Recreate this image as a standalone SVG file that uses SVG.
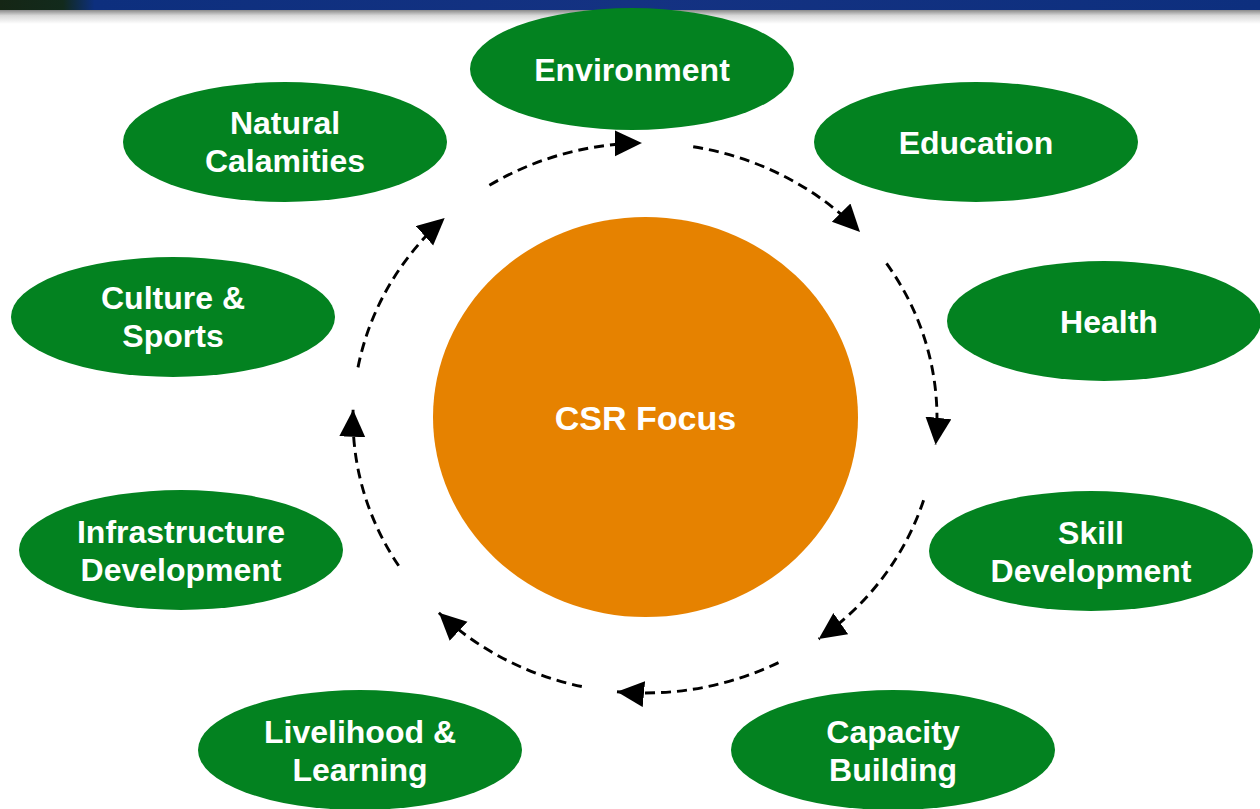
<svg xmlns="http://www.w3.org/2000/svg" width="1260" height="809" viewBox="0 0 1260 809">
<style>
.node ellipse{fill:#038220}
.lbl{font-family:"Liberation Sans",Arial,sans-serif;font-weight:bold;font-size:32px;fill:#fff;text-anchor:middle}
.arc{fill:none;stroke:#000;stroke-width:2.9;stroke-dasharray:10 6;marker-end:url(#ah)}
</style>
<defs>
<linearGradient id="hdr" x1="0" y1="0" x2="1" y2="0">
<stop offset="0" stop-color="#152615"/>
<stop offset="0.05" stop-color="#122a1c"/>
<stop offset="0.075" stop-color="#0d2f7e"/>
<stop offset="0.5" stop-color="#143282"/>
<stop offset="1" stop-color="#0d2f7e"/>
</linearGradient>
<linearGradient id="shd" x1="0" y1="0" x2="0" y2="1">
<stop offset="0" stop-color="#8a8a8a"/>
<stop offset="0.4" stop-color="#d8d8d8"/>
<stop offset="1" stop-color="#ffffff"/>
</linearGradient>
<marker id="ah" markerUnits="userSpaceOnUse" markerWidth="30" markerHeight="28" refX="27" refY="13" orient="auto">
<path d="M0,0 L27,13 L0,26 Z" fill="#000"/>
</marker>
</defs>
<rect x="0" y="0" width="1260" height="809" fill="#fff"/>
<rect x="0" y="10" width="1260" height="14" fill="url(#shd)"/>
<rect x="0" y="0" width="1260" height="10" fill="url(#hdr)"/>

<g id="connectors">
<path class="arc" d="M489.4,185.3 A292,275 0 0 1 641.9,143.0"/>
<path class="arc" d="M693.2,146.8 A292,275 0 0 1 860.0,231.9"/>
<path class="arc" d="M886.5,263.4 A292,275 0 0 1 935.6,444.8"/>
<path class="arc" d="M923.6,500.2 A292,275 0 0 1 818.7,639.1"/>
<path class="arc" d="M778.5,662.6 A292,275 0 0 1 617.0,691.7"/>
<path class="arc" d="M581.8,686.5 A292,275 0 0 1 438.9,612.8"/>
<path class="arc" d="M398.7,565.8 A292,275 0 0 1 353.1,409.8"/>
<path class="arc" d="M358.0,367.4 A292,275 0 0 1 444.7,217.9"/>
</g>

<g id="csr-focus">
<ellipse cx="645.5" cy="417" rx="212.5" ry="200" fill="#e68200"/>
<text class="lbl" x="645.5" y="430" style="font-size:34px">CSR Focus</text>
</g>

<g id="environment" class="node">
<ellipse cx="632" cy="69" rx="162" ry="61"/>
<text class="lbl" x="632" y="80.5">Environment</text>
</g>
<g id="education" class="node">
<ellipse cx="976" cy="142" rx="162" ry="60"/>
<text class="lbl" x="976" y="153.5">Education</text>
</g>
<g id="health" class="node">
<ellipse cx="1104" cy="321" rx="157" ry="60"/>
<text class="lbl" x="1109" y="332.5">Health</text>
</g>
<g id="skill-development" class="node">
<ellipse cx="1091" cy="551" rx="162" ry="60"/>
<text class="lbl" x="1091" y="544">Skill</text>
<text class="lbl" x="1091" y="582">Development</text>
</g>
<g id="capacity-building" class="node">
<ellipse cx="893" cy="750" rx="162" ry="60"/>
<text class="lbl" x="893" y="743">Capacity</text>
<text class="lbl" x="893" y="781">Building</text>
</g>
<g id="livelihood-learning" class="node">
<ellipse cx="360" cy="750" rx="162" ry="60"/>
<text class="lbl" x="360" y="743">Livelihood &amp;</text>
<text class="lbl" x="360" y="781">Learning</text>
</g>
<g id="infrastructure-development" class="node">
<ellipse cx="181" cy="550" rx="162" ry="60"/>
<text class="lbl" x="181" y="543">Infrastructure</text>
<text class="lbl" x="181" y="581">Development</text>
</g>
<g id="culture-sports" class="node">
<ellipse cx="173" cy="317" rx="162" ry="60"/>
<text class="lbl" x="173" y="309">Culture &amp;</text>
<text class="lbl" x="173" y="347">Sports</text>
</g>
<g id="natural-calamities" class="node">
<ellipse cx="285" cy="142" rx="162" ry="60"/>
<text class="lbl" x="285" y="134">Natural</text>
<text class="lbl" x="285" y="172">Calamities</text>
</g>
</svg>
